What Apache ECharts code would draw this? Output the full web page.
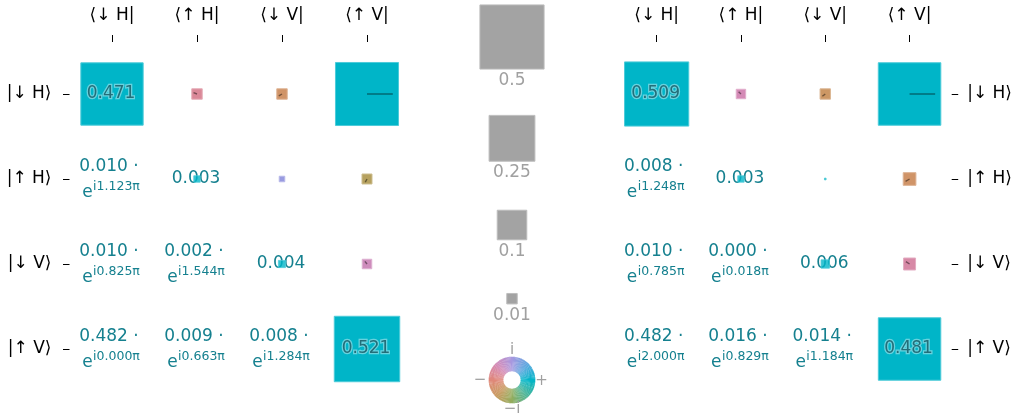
<!DOCTYPE html>
<html>
<head>
<meta charset="utf-8">
<script src="https://cdn.jsdelivr.net/npm/echarts@6/dist/echarts.min.js"></script>
<style>
  html, body { margin: 0; padding: 0; background: #fff; }
  #chart { width: 1015px; height: 419px; }
</style>
</head>
<body>
<div id="chart"></div>
<script>
// Basis labels
const colLabels = ['⟨↓ H|', '⟨↑ H|', '⟨↓ V|', '⟨↑ V|'];
const rowLabels = ['|↓ H⟩', '|↑ H⟩', '|↓ V⟩', '|↑ V⟩'];

// Lower-triangle entries, listed in order (row, col):
const lowerPairs = [[1, 0], [2, 0], [2, 1], [3, 0], [3, 1], [3, 2]];

// Left density matrix
const leftDiag = [0.471, 0.003, 0.004, 0.521];
const leftMag = [0.010, 0.010, 0.002, 0.482, 0.009, 0.008];
const leftPhase = [1.123, 0.825, 1.544, 0.000, 0.663, 1.284]; // units of pi

// Right density matrix
const rightDiag = [0.509, 0.003, 0.006, 0.481];
const rightMag = [0.008, 0.010, 0.000, 0.482, 0.016, 0.014];
const rightPhase = [1.248, 0.785, 0.018, 2.000, 0.829, 1.184]; // units of pi

// Size legend
const legendValues = [0.5, 0.25, 0.1, 0.01];
const legendLabels = ['0.5', '0.25', '0.1', '0.01'];

// Cyclic phase colour map (0, 45, 90, ... 315 degrees)
const phaseStops = ['#00b5c8', '#5ea8df', '#a698e0', '#d48ab6', '#e0877a', '#c99a60', '#93ad5e', '#48b498'];

// ---- layout / style ----
const FONT = '"DejaVu Sans", sans-serif';
const TEXT_TEAL = '#15808f';
const layout = {
  legendX: 512,
  legendY: [37, 138.3, 225, 298.7],
  wheel: { cx: 512, cy: 380, r0: 8.7, r: 23.3 }
};

function hexToRgb(h) {
  return [parseInt(h.slice(1, 3), 16), parseInt(h.slice(3, 5), 16), parseInt(h.slice(5, 7), 16)];
}
const stopRgb = phaseStops.map(hexToRgb);
function phaseColor(ph) {
  let t = ((ph % 2) + 2) % 2 / 2 * stopRgb.length;
  const i = Math.floor(t) % stopRgb.length, j = (i + 1) % stopRgb.length;
  const f = t - Math.floor(t);
  return stopRgb[i].map((v, k) => Math.round(v + (stopRgb[j][k] - v) * f));
}
const rgb = (c, a) => a == null ? `rgb(${c[0]},${c[1]},${c[2]})` : `rgba(${c[0]},${c[1]},${c[2]},${a})`;
const shade = (c, f) => c.map(v => Math.round(v * f));
const tint = (c, f) => c.map(v => Math.round(v + (255 - v) * f));

// square side grows with sqrt(magnitude)
function sideFor(v, cell) {
  return cell * 1.041 * Math.sqrt(v) + 1.6;
}

const measureCtx = document.createElement('canvas').getContext('2d');
function textWidth(s, size) {
  measureCtx.font = size + 'px ' + FONT;
  return measureCtx.measureText(s).width;
}

// Build custom-series data: [col, row, kind, magnitude, phase]
// kind 0 = diagonal, 1 = lower text, 2 = upper square (conjugate)
function buildData(diag, mags, phases) {
  const out = [];
  diag.forEach((v, i) => out.push([i, i, 0, v, 0]));
  lowerPairs.forEach(([r, c], k) => {
    out.push([c, r, 1, mags[k], phases[k]]);
    out.push([r, c, 2, mags[k], (2 - phases[k]) % 2]);
  });
  return out;
}

function squareEls(cx, cy, v, ph, cell, withLine) {
  const col = phaseColor(ph);
  const s = sideFor(v, cell);
  const els = [{
    type: 'rect',
    shape: { x: cx - s / 2, y: cy - s / 2, width: s, height: s },
    style: { fill: rgb(col), stroke: rgb(tint(col, 0.3)), lineWidth: 1 }
  }];
  const inner = s - 1.6;
  if (withLine && inner > 6) {
    const L = 0.42 * inner;
    const a = ph * Math.PI;
    els.push({
      type: 'line',
      shape: { x1: cx, y1: cy, x2: cx + L * Math.cos(a), y2: cy - L * Math.sin(a) },
      style: { stroke: rgb(shade(col, 0.55)), lineWidth: 1.4 }
    });
  }
  return els;
}

function renderCell(params, api) {
  const c = api.value(0), r = api.value(1), kind = api.value(2);
  const mag = api.value(3), ph = api.value(4);
  const pt = api.coord([c, r]);
  const cx = pt[0], cy = pt[1];
  const cell = api.size([1, 1])[0];
  const children = [];
  if (kind === 2) {
    children.push(...squareEls(cx, cy, mag, ph, cell, true));
  } else if (kind === 0) {
    const s = sideFor(mag, cell);
    const label = mag.toFixed(3);
    const big = s > 20;
    const txt = {
      type: 'text', x: cx - 1, y: cy,
      style: big ? {
        text: label, fill: '#236e79', fontSize: 17, fontFamily: FONT,
        align: 'center', verticalAlign: 'middle',
        stroke: 'rgba(110,212,223,0.95)', lineWidth: 2.5
      } : {
        text: label, fill: TEXT_TEAL, fontSize: 17, fontFamily: FONT,
        align: 'center', verticalAlign: 'middle'
      }
    };
    const sq = squareEls(cx, cy, mag, 0, cell, false);
    if (big) { children.push(...sq, txt); }
    else { sq[0].style.opacity = 0.8; children.push(txt, ...sq); }
  } else {
    const l1 = mag.toFixed(3) + ' ·';
    const sup = 'i' + ph.toFixed(3) + 'π';
    children.push({
      type: 'text', x: cx - 3, y: cy - 12.3,
      style: { text: l1, fill: TEXT_TEAL, fontSize: 17, fontFamily: FONT, align: 'center', verticalAlign: 'middle' }
    });
    const we = textWidth('e', 17), ws = textWidth(sup, 12.5);
    const x0 = cx - 1 - (we + ws + 0.5) / 2;
    children.push({
      type: 'text', x: x0, y: cy + 13.5,
      style: { text: 'e', fill: TEXT_TEAL, fontSize: 17, fontFamily: FONT, align: 'left', verticalAlign: 'middle' }
    });
    children.push({
      type: 'text', x: x0 + we + 0.5, y: cy + 8,
      style: { text: sup, fill: TEXT_TEAL, fontSize: 12.5, fontFamily: FONT, align: 'left', verticalAlign: 'middle' }
    });
  }
  return { type: 'group', children };
}

const axisLabelStyle = { color: '#000', fontSize: 17, fontFamily: FONT };
function xAxisFor(gi) {
  return {
    type: 'category', gridIndex: gi, data: colLabels, position: 'top', offset: 9.5,
    axisLine: { show: false },
    axisTick: { show: true, alignWithLabel: true, length: 7, lineStyle: { color: '#000', width: 1 } },
    axisLabel: Object.assign({ margin: 18 }, axisLabelStyle),
    splitLine: { show: false }
  };
}
function yAxisFor(gi, side) {
  return {
    type: 'category', gridIndex: gi, data: rowLabels, inverse: true, position: side,
    axisLine: { show: false },
    axisTick: { show: true, alignWithLabel: true, length: 6.5, lineStyle: { color: '#000', width: 1 } },
    axisLabel: Object.assign({ margin: side === 'left' ? 18 : 15.5 }, axisLabelStyle),
    splitLine: { show: false }
  };
}

// size legend and phase wheel
const graphics = [];
const LEG_CELL = 85;
legendValues.forEach((v, i) => {
  const s = sideFor(v, LEG_CELL);
  const cy = layout.legendY[i];
  graphics.push({
    type: 'rect',
    shape: { x: layout.legendX - s / 2, y: cy - s / 2, width: s, height: s },
    style: { fill: '#a3a3a3', stroke: '#bdbdbd', lineWidth: 1 }
  });
  graphics.push({
    type: 'text', x: layout.legendX, y: cy + s / 2 + 11.3,
    style: { text: legendLabels[i], fill: '#a0a0a0', fontSize: 17, fontFamily: FONT, align: 'center', verticalAlign: 'middle' }
  });
});
const W = layout.wheel, NSEG = 120;
for (let k = 0; k < NSEG; k++) {
  const p0 = 2 * k / NSEG, p1 = 2 * (k + 1) / NSEG;
  graphics.push({
    type: 'sector',
    shape: { cx: W.cx, cy: W.cy, r0: W.r0, r: W.r, startAngle: -(p1 * Math.PI) - 0.01, endAngle: -(p0 * Math.PI), clockwise: true },
    style: { fill: rgb(phaseColor((p0 + p1) / 2)) }
  });
}
const wheelLabel = (t, x, y) => ({
  type: 'text', x, y,
  style: { text: t, fill: '#a0a0a0', fontSize: 15, fontFamily: FONT, align: 'center', verticalAlign: 'middle' }
});
graphics.push(wheelLabel('i', W.cx, W.cy - 29.5));
graphics.push(wheelLabel('−', W.cx - 32, W.cy));
graphics.push(wheelLabel('+', W.cx + 29.5, W.cy + 1));
graphics.push(wheelLabel('−i', W.cx, W.cy + 29));

const chart = echarts.init(document.getElementById('chart'), null, { renderer: 'canvas' });
chart.setOption({
  animation: false,
  backgroundColor: '#fff',
  grid: [
    { left: 69.5, top: 51.5, width: 340, height: 340 },
    { left: 614.5, top: 51.5, width: 340, height: 340 }
  ],
  xAxis: [xAxisFor(0), xAxisFor(1)],
  yAxis: [yAxisFor(0, 'left'), yAxisFor(1, 'right')],
  series: [
    { type: 'custom', xAxisIndex: 0, yAxisIndex: 0, renderItem: renderCell, data: buildData(leftDiag, leftMag, leftPhase), silent: true },
    { type: 'custom', xAxisIndex: 1, yAxisIndex: 1, renderItem: renderCell, data: buildData(rightDiag, rightMag, rightPhase), silent: true }
  ],
  graphic: graphics
});
</script>
</body>
</html>
